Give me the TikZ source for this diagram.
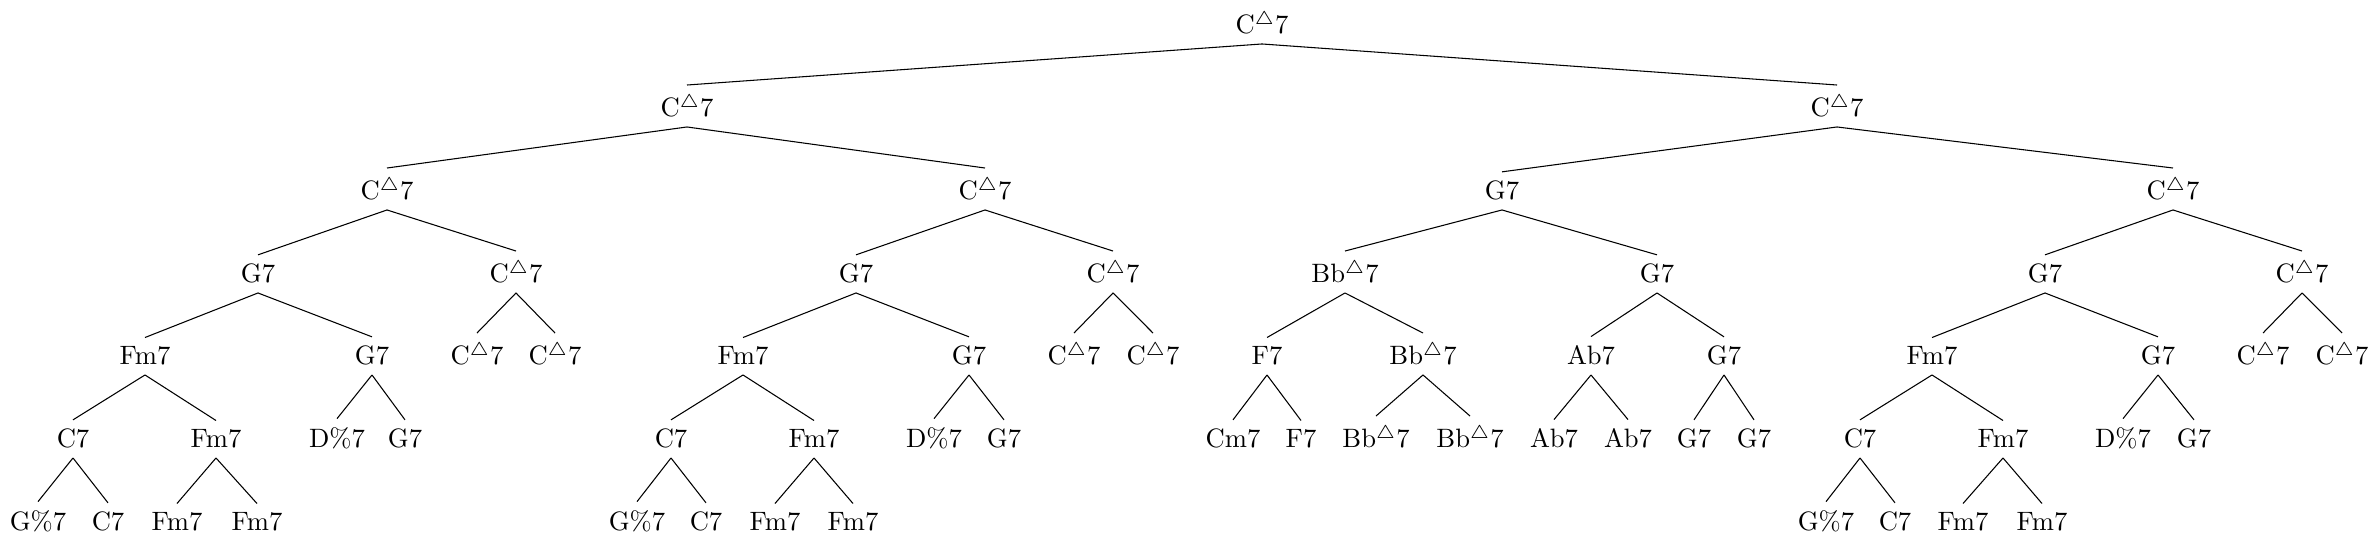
\documentclass[tikz,border=0pt]{standalone}
\newcommand\chmaj{$^{\triangle}$}
\begin{document}
\begin{tikzpicture}[x=0.376pt,y=-0.376pt,
  tn/.style={anchor=base,inner sep=3.333pt},
  te/.style={line width=0.4pt}]
\useasboundingbox (0,0) rectangle (2379,542);
% level 0
\node[tn] (r) at (1262,34) {C\chmaj7};
% level 1
\node[tn] (a) at (687,117) {C\chmaj7};
\node[tn] (b) at (1837,117) {C\chmaj7};
% level 2
\node[tn] (aa) at (387,200) {C\chmaj7};
\node[tn] (ab) at (985,200) {C\chmaj7};
\node[tn] (ba) at (1502,200) {G7};
\node[tn] (bb) at (2173,200) {C\chmaj7};
% level 3
\node[tn] (aaa) at (258,283) {G7};
\node[tn] (aab) at (516,283) {C\chmaj7};
\node[tn] (aba) at (856,283) {G7};
\node[tn] (abb) at (1113,283) {C\chmaj7};
\node[tn] (baa) at (1345,283) {Bb\chmaj7};
\node[tn] (bab) at (1657,283) {G7};
\node[tn] (bba) at (2045,283) {G7};
\node[tn] (bbb) at (2302,283) {C\chmaj7};
% level 4
\node[tn] (aaaa) at (145,365) {Fm7};
\node[tn] (aaab) at (372,365) {G7};
\node[tn] (aaba) at (477,365) {C\chmaj7};
\node[tn] (aabb) at (555,365) {C\chmaj7};
\node[tn] (abaa) at (743,365) {Fm7};
\node[tn] (abab) at (969,365) {G7};
\node[tn] (abba) at (1074,365) {C\chmaj7};
\node[tn] (abbb) at (1153,365) {C\chmaj7};
\node[tn] (baaa) at (1267,365) {F7};
\node[tn] (baab) at (1423,365) {Bb\chmaj7};
\node[tn] (baba) at (1591,365) {Ab7};
\node[tn] (babb) at (1724,365) {G7};
\node[tn] (bbaa) at (1932,365) {Fm7};
\node[tn] (bbab) at (2158,365) {G7};
\node[tn] (bbba) at (2263,365) {C\chmaj7};
\node[tn] (bbbb) at (2342,365) {C\chmaj7};
% level 5
\node[tn] (aaaaa) at (73,448) {C7};
\node[tn] (aaaab) at (216,448) {Fm7};
\node[tn] (aaaba) at (337,448) {D\%7};
\node[tn] (aaabb) at (405,448) {G7};
\node[tn] (abaaa) at (671,448) {C7};
\node[tn] (abaab) at (814,448) {Fm7};
\node[tn] (ababa) at (934,448) {D\%7};
\node[tn] (ababb) at (1004,448) {G7};
\node[tn] (baaaa) at (1233,448) {Cm7};
\node[tn] (baaab) at (1301,448) {F7};
\node[tn] (baaba) at (1376,448) {Bb\chmaj7};
\node[tn] (baabb) at (1470,448) {Bb\chmaj7};
\node[tn] (babaa) at (1554,448) {Ab7};
\node[tn] (babab) at (1628,448) {Ab7};
\node[tn] (babba) at (1694,448) {G7};
\node[tn] (babbb) at (1754,448) {G7};
\node[tn] (bbaaa) at (1860,448) {C7};
\node[tn] (bbaab) at (2003,448) {Fm7};
\node[tn] (bbaba) at (2123,448) {D\%7};
\node[tn] (bbabb) at (2194,448) {G7};
% level 6
\node[tn] (aaaaaa) at (38,531) {G\%7};
\node[tn] (aaaaab) at (108,531) {C7};
\node[tn] (aaaaba) at (177,531) {Fm7};
\node[tn] (aaaabb) at (257,531) {Fm7};
\node[tn] (abaaaa) at (637,531) {G\%7};
\node[tn] (abaaab) at (706,531) {C7};
\node[tn] (abaaba) at (775,531) {Fm7};
\node[tn] (abaabb) at (853,531) {Fm7};
\node[tn] (bbaaaa) at (1826,531) {G\%7};
\node[tn] (bbaaab) at (1895,531) {C7};
\node[tn] (bbaaba) at (1963,531) {Fm7};
\node[tn] (bbaabb) at (2042,531) {Fm7};
% edges
\foreach \p/\c in {r/a,r/b,
  a/aa,a/ab,b/ba,b/bb,
  aa/aaa,aa/aab,ab/aba,ab/abb,ba/baa,ba/bab,bb/bba,bb/bbb,
  aaa/aaaa,aaa/aaab,aab/aaba,aab/aabb,aba/abaa,aba/abab,abb/abba,abb/abbb,
  baa/baaa,baa/baab,bab/baba,bab/babb,bba/bbaa,bba/bbab,bbb/bbba,bbb/bbbb,
  aaaa/aaaaa,aaaa/aaaab,aaab/aaaba,aaab/aaabb,
  abaa/abaaa,abaa/abaab,abab/ababa,abab/ababb,
  baaa/baaaa,baaa/baaab,baab/baaba,baab/baabb,
  baba/babaa,baba/babab,babb/babba,babb/babbb,
  bbaa/bbaaa,bbaa/bbaab,bbab/bbaba,bbab/bbabb,
  aaaaa/aaaaaa,aaaaa/aaaaab,aaaab/aaaaba,aaaab/aaaabb,
  abaaa/abaaaa,abaaa/abaaab,abaab/abaaba,abaab/abaabb,
  bbaaa/bbaaaa,bbaaa/bbaaab,bbaab/bbaaba,bbaab/bbaabb}
  \draw[te] (\p.south) -- (\c.north);
\end{tikzpicture}
\end{document}
